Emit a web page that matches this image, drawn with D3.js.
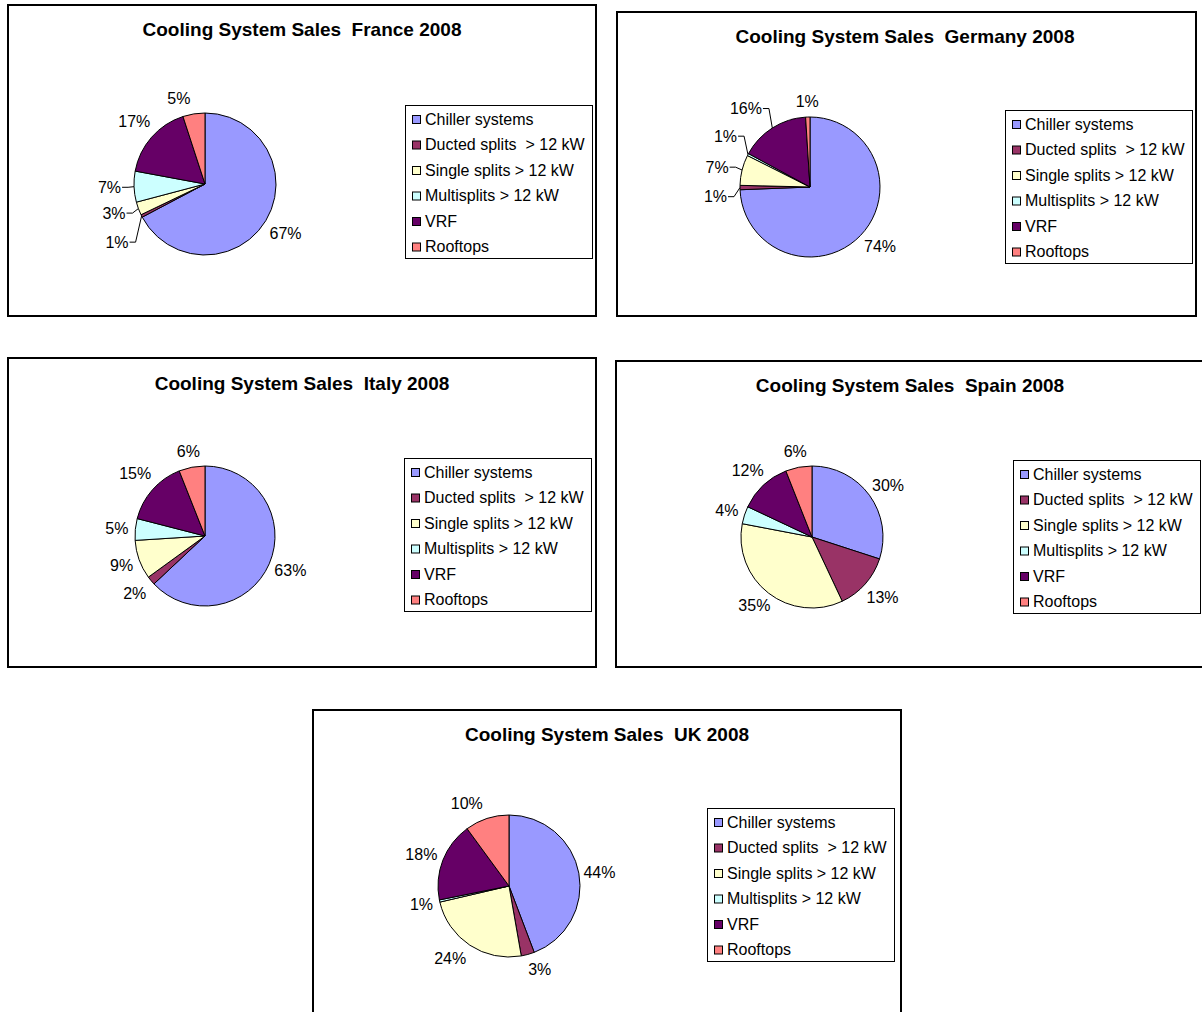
<!DOCTYPE html>
<html>
<head>
<meta charset="utf-8">
<script src="https://cdn.jsdelivr.net/npm/d3@7"></script>
<style>
  html, body { margin: 0; padding: 0; background: #fff; }
  svg { display: block; }
  text { font-family: "Liberation Sans", Arial, sans-serif; fill: #000; white-space: pre; }
</style>
</head>
<body>
<svg id="chart" width="1202" height="1012"></svg>
<script>
// ---------------- DATA ----------------
const categories = [
  "Chiller systems",
  "Ducted splits  > 12 kW",
  "Single splits > 12 kW",
  "Multisplits > 12 kW",
  "VRF",
  "Rooftops"
];
const countries = ["France", "Germany", "Italy", "Spain", "UK"];
const year = "2008";
const franceValues  = [67, 0.6, 3, 7, 17, 5];
const germanyValues = [74, 1, 7, 0.5, 16, 1];
const italyValues   = [63, 2, 9, 5, 15, 6];
const spainValues   = [30, 13, 35, 4, 12, 6];
const ukValues      = [44, 3, 24, 0.5, 18, 10];
const seriesValues = [franceValues, germanyValues, italyValues, spainValues, ukValues];

// ---------------- STYLE / LAYOUT ----------------
const colors = ["#9999FF", "#993366", "#FFFFCC", "#CCFFFF", "#660066", "#FF8080"];
const layouts = [
  { box: [8, 5, 588, 311],   pie: [205, 184, 71], legend: [405, 105], title: [302, 29],
    nudges: {0: [0, 4], 1: [-8, 19], 2: [-7, -1], 3: [-6, 0], 4: [0, -5], 5: [-12, 0]}, leaders: [1, 2, 3] },
  { box: [617, 12, 579, 304], pie: [810, 187, 70], legend: [1005, 110], title: [905, 36],
    nudges: {0: [3, 0], 1: [-6, 9], 2: [-7, 1], 3: [-6, -11], 4: [-14, -6]}, leaders: [1, 2, 3, 4] },
  { box: [8, 358, 588, 309], pie: [205, 536, 70], legend: [404, 458], title: [302, 383],
    nudges: {4: [0, -6], 1: [-2, 3]}, leaders: [] },
  { box: [616, 361, 600, 306], pie: [812, 537, 71], legend: [1013, 460], title: [910, 385],
    nudges: {1: [0, 3], 4: [0, -3]}, leaders: [] },
  { box: [313, 710, 588, 320], pie: [509, 886, 71], legend: [707, 808], title: [607, 734],
    nudges: {5: [-13, 0], 2: [-7, 0], 1: [7, 0], 0: [-2, 2]}, leaders: [] }
];
const legendW = 187, legendH = 153, rowStep = 25.5, rowFirst = 14;
const labelGap = 7, labelH = 18;

// ---------------- DRAW ----------------
const svg = d3.select("#chart");
const pie = d3.pie().sort(null).value(d => d);

countries.forEach((country, ci) => {
  const L = layouts[ci];
  const values = seriesValues[ci];
  const total = d3.sum(values);
  const g = svg.append("g");

  // panel border
  g.append("rect")
    .attr("x", L.box[0]).attr("y", L.box[1])
    .attr("width", L.box[2]).attr("height", L.box[3])
    .attr("fill", "#fff").attr("stroke", "#000").attr("stroke-width", 2);

  // title
  g.append("text")
    .attr("x", L.title[0]).attr("y", L.title[1])
    .attr("dy", "0.35em")
    .attr("text-anchor", "middle")
    .attr("font-size", 19).attr("font-weight", "bold")
    .text("Cooling System Sales  " + country + " " + year);

  // pie
  const [cx, cy, r] = L.pie;
  const arcs = pie(values);
  const arc = d3.arc().innerRadius(0).outerRadius(r);
  const pg = g.append("g").attr("transform", `translate(${cx},${cy})`);
  pg.selectAll("path").data(arcs).join("path")
    .attr("d", arc)
    .attr("fill", (d, i) => colors[i])
    .attr("stroke", "#000").attr("stroke-width", 1).attr("stroke-linejoin", "round");

  // labels
  const lg = g.append("g");
  arcs.forEach((d, i) => {
    const th = (d.startAngle + d.endAngle) / 2;
    const ux = Math.sin(th), uy = -Math.cos(th);
    const t = lg.append("text")
      .attr("font-size", 16)
      .attr("text-anchor", "middle")
      .attr("dy", "0.35em")
      .text(Math.round(d.value / total * 100) + "%");
    const w = t.node().getComputedTextLength();
    const nd = L.nudges[i] || [0, 0];
    const lx = cx + (r + labelGap) * ux + ux * w / 2 + nd[0];
    const ly = cy + (r + labelGap) * uy + uy * labelH / 2 + nd[1];
    t.attr("x", lx).attr("y", ly);
    if (L.leaders.includes(i)) {
      const side = lx < cx ? 1 : -1;
      const sx = lx + side * (w / 2 + 1);
      const pts = [[sx, ly], [sx + side * 6, ly], [cx + r * ux, cy + r * uy]];
      lg.append("path")
        .attr("d", d3.line()(pts))
        .attr("fill", "none").attr("stroke", "#000").attr("stroke-width", 1);
    }
  });

  // legend
  const [lx0, ly0] = L.legend;
  const leg = g.append("g").attr("transform", `translate(${lx0},${ly0})`);
  leg.append("rect")
    .attr("x", 0.5).attr("y", 0.5).attr("width", legendW).attr("height", legendH)
    .attr("fill", "#fff").attr("stroke", "#000").attr("stroke-width", 1);
  const rows = leg.selectAll("g.row").data(categories).join("g")
    .attr("class", "row")
    .attr("transform", (d, i) => `translate(0,${rowFirst + i * rowStep})`);
  rows.append("rect")
    .attr("x", 7.5).attr("y", -3.5).attr("width", 8).attr("height", 8)
    .attr("fill", (d, i) => colors[i])
    .attr("stroke", "#000").attr("stroke-width", 1);
  rows.append("text")
    .attr("x", 20).attr("y", 0).attr("dy", "0.35em")
    .attr("font-size", 16)
    .text(d => d);
});
</script>
</body>
</html>
